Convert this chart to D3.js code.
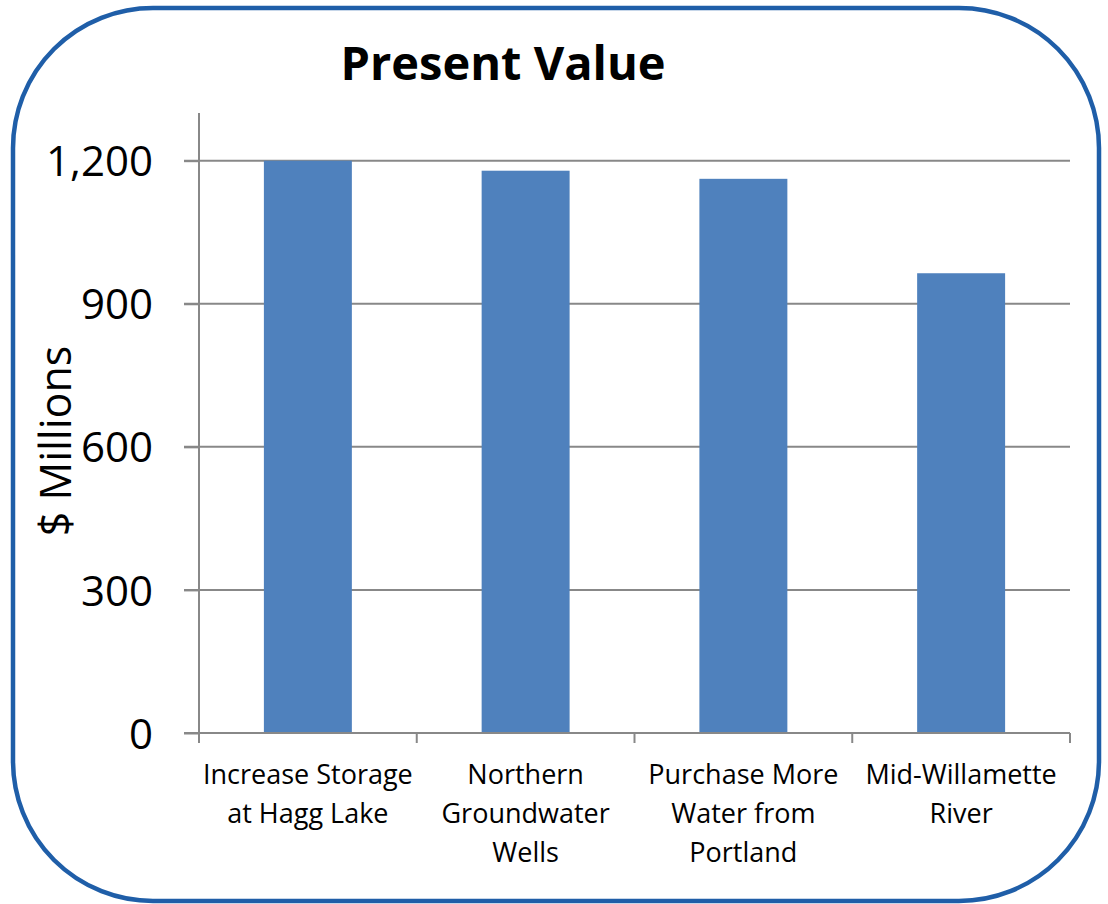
<!DOCTYPE html>
<html><head><meta charset="utf-8">
<script src="https://cdn.jsdelivr.net/npm/d3@7"></script>
<style>body{margin:0;background:#fff}svg{display:block}</style>
</head><body>
<svg id="c" width="1108" height="904"></svg>
<script>
const categories = [
  ["Increase Storage", "at Hagg Lake"],
  ["Northern", "Groundwater", "Wells"],
  ["Purchase More", "Water from", "Portland"],
  ["Mid-Willamette", "River"]
];
const values = [1200, 1179, 1162, 964];
const yTicks = [0, 300, 600, 900, 1200];
const title = "Present Value";
const yLabel = "$ Millions";

const svg = d3.select("#c");
const font = "'Open Sans', 'Noto Sans', sans-serif";
svg.append("rect").attr("x", 13).attr("y", 8).attr("width", 1086).attr("height", 893)
  .attr("rx", 140).attr("ry", 140).attr("fill", "#fff")
  .attr("stroke", "#1f5ea8").attr("stroke-width", 4.5);

const x0 = 199, x1 = 1070, yBase = 733;
const x = d3.scaleBand().domain(d3.range(categories.length)).range([x0, x1]).paddingInner(0.596).paddingOuter(0.298);
const y = d3.scaleLinear().domain([0, 1300]).range([yBase, 113]);
const grid = "#888";

// gridlines
svg.append("g").selectAll("line").data(yTicks.filter(d => d > 0)).join("line")
  .attr("x1", 184).attr("x2", x1).attr("y1", d => y(d)).attr("y2", d => y(d))
  .attr("stroke", grid).attr("stroke-width", 2);

// bars
svg.append("g").selectAll("rect").data(values).join("rect")
  .attr("x", (d, i) => x(i)).attr("width", x.bandwidth())
  .attr("y", d => y(d)).attr("height", d => yBase - y(d))
  .attr("fill", "#4f81bd");

// y axis
const yAxis = d3.axisLeft(y).tickValues(yTicks).tickSize(15).tickPadding(31)
  .tickFormat(d3.format(","));
const gy = svg.append("g").attr("transform", `translate(${x0},0)`).call(yAxis);
gy.select(".domain").attr("stroke", grid).attr("stroke-width", 2).attr("d", `M0,${y(1300)}V${yBase}`);
gy.selectAll(".tick line").attr("stroke", grid).attr("stroke-width", 2);
gy.selectAll(".tick text").attr("font-family", font).attr("font-size", 42).attr("fill", "#000").attr("dy", "0.36em");

// x axis
const boundaries = d3.range(categories.length + 1).map(i => x0 + i * (x1 - x0) / categories.length);
svg.append("line").attr("x1", 184).attr("x2", x1).attr("y1", yBase).attr("y2", yBase).attr("stroke", grid).attr("stroke-width", 2);
svg.append("g").selectAll("line").data(boundaries).join("line")
  .attr("x1", d => d).attr("x2", d => d).attr("y1", yBase).attr("y2", yBase + 10)
  .attr("stroke", grid).attr("stroke-width", 2);

const lbl = svg.append("g").selectAll("text").data(categories).join("text")
  .attr("font-family", font).attr("font-size", 27).attr("text-anchor", "middle").attr("fill", "#000");
lbl.each(function(lines, i) {
  const t = d3.select(this);
  lines.forEach((l, j) => t.append("tspan").attr("x", x(i) + x.bandwidth() / 2).attr("y", 784 + j * 39).text(l));
});

// title
svg.append("text").attr("x", 503).attr("y", 80).attr("text-anchor", "middle")
  .attr("font-family", font).attr("font-weight", "bold").attr("font-size", 47).text(title);

// y label
svg.append("text").attr("transform", "translate(71,441) rotate(-90)").attr("text-anchor", "middle")
  .attr("font-family", font).attr("font-size", 43).text(yLabel);
</script>
</body></html>
